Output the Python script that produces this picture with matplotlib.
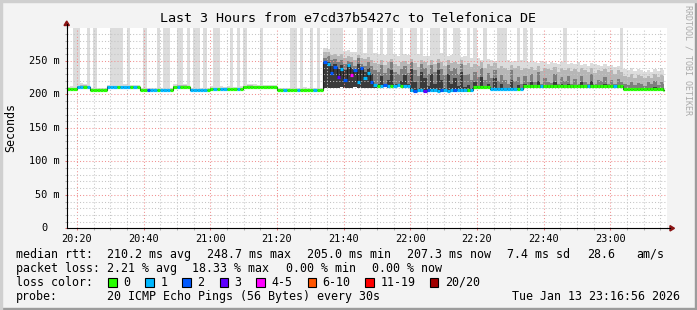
import numpy as np
import matplotlib
matplotlib.use("Agg")
import matplotlib.pyplot as plt
from matplotlib.patches import Polygon, Rectangle
from matplotlib.lines import Line2D

# one bin per minute, bin 0 starts at 20:16:56 (values in ms)
median_ms = [
    208, 208, 208, 211, 211, 211, 211, 206, 206, 206,
    206, 206, 211, 211, 211, 211, 211, 211, 211, 211,
    211, 211, 206, 206, 206, 206, 206, 206, 206, 206,
    206, 206, 211, 211, 211, 211, 211, 206, 206, 206,
    206, 206, 206, 208, 208, 208, 208, 208, 208, 208,
    208, 208, 208, 211, 211, 211, 211, 211, 211, 211,
    211, 211, 211, 206, 206, 206, 206, 206, 206, 206,
    206, 206, 206, 206, 206, 206, 206, 249, 246, 232,
    241, 226, 238, 221, 244, 229, 236, 218, 240, 225,
    232, 219, 214, 213, 213, 214, 212, 213, 213, 214,
    213, 212, 213, 206, 205, 206, 206, 205, 206, 207,
    206, 205, 206, 206, 205, 206, 206, 207, 206, 206,
    206, 206, 211, 211, 211, 211, 211, 208, 208, 208,
    208, 208, 208, 208, 208, 208, 208, 212, 212, 212,
    212, 212, 212, 212, 212, 212, 212, 212, 212, 212,
    212, 212, 212, 212, 212, 212, 212, 212, 212, 212,
    212, 212, 212, 212, 212, 212, 212, 208, 208, 208,
    208, 208, 208, 208, 208, 208, 208, 208, 208, 207,
]

# lost pings out of 20
loss_cnt = [
    0, 0, 0, 1, 1, 0, 1, 0, 0, 0,
    0, 0, 1, 1, 1, 0, 1, 1, 1, 0,
    1, 0, 0, 0, 2, 1, 1, 0, 1, 1,
    1, 0, 0, 1, 0, 0, 0, 1, 1, 1,
    1, 1, 0, 0, 1, 0, 1, 1, 0, 0,
    0, 1, 0, 0, 0, 0, 0, 0, 0, 0,
    0, 0, 0, 0, 0, 1, 0, 0, 0, 1,
    0, 0, 0, 0, 1, 0, 0, 2, 1, 2,
    2, 3, 1, 2, 1, 4, 2, 1, 2, 1,
    1, 2, 1, 0, 1, 2, 1, 0, 1, 1,
    0, 1, 1, 1, 2, 1, 1, 3, 2, 1,
    1, 1, 2, 1, 1, 1, 2, 1, 1, 1,
    0, 1, 0, 0, 0, 0, 0, 1, 1, 1,
    1, 1, 1, 1, 1, 0, 1, 0, 0, 0,
    0, 0, 1, 0, 0, 0, 0, 0, 0, 0,
    0, 0, 0, 0, 0, 0, 1, 0, 0, 0,
    0, 0, 0, 0, 1, 0, 0, 0, 0, 0,
    0, 0, 0, 0, 0, 0, 0, 0, 0, 0,
]

# smoke: fastest ping, 60th / 75th / 90th percentile, slowest ping
smoke_min = [
    207, 207, 207, 210, 210, 210, 210, 205, 205, 205,
    205, 205, 210, 210, 210, 210, 210, 210, 210, 210,
    210, 210, 205, 205, 205, 205, 205, 205, 205, 205,
    205, 205, 210, 210, 210, 210, 210, 205, 205, 205,
    205, 205, 205, 207, 207, 207, 207, 207, 207, 207,
    207, 207, 207, 210, 210, 210, 210, 210, 210, 210,
    210, 210, 210, 205, 205, 205, 205, 205, 205, 205,
    205, 205, 205, 205, 205, 205, 205, 209, 210, 209,
    210, 209, 211, 210, 209, 210, 211, 209, 210, 209,
    210, 209, 210, 211, 211, 212, 210, 211, 211, 212,
    211, 210, 211, 204, 203, 204, 204, 203, 204, 205,
    204, 203, 204, 204, 203, 204, 204, 205, 204, 204,
    204, 204, 209, 209, 209, 209, 209, 206, 206, 206,
    206, 206, 206, 206, 206, 206, 206, 210, 210, 210,
    210, 210, 210, 210, 210, 210, 210, 210, 210, 210,
    210, 210, 210, 210, 210, 210, 210, 210, 210, 210,
    210, 210, 210, 210, 210, 210, 210, 206, 206, 206,
    206, 206, 206, 206, 206, 206, 206, 206, 206, 205,
]

smoke_p60 = [
    208, 208, 208, 211, 211, 211, 211, 206, 206, 206,
    206, 206, 211, 211, 211, 211, 211, 211, 211, 211,
    211, 211, 206, 206, 206, 206, 206, 206, 206, 206,
    206, 206, 211, 211, 211, 211, 211, 206, 206, 206,
    206, 206, 206, 208, 208, 208, 208, 208, 208, 208,
    208, 208, 208, 211, 211, 211, 211, 211, 211, 211,
    211, 211, 211, 206, 206, 206, 206, 206, 206, 206,
    206, 206, 206, 206, 206, 206, 206, 246, 249, 242,
    245, 238, 244, 236, 241, 240, 233, 246, 238, 234,
    240, 230, 216, 215, 228, 216, 222, 236, 215, 216,
    220, 229, 215, 238, 218, 210, 233, 224, 212, 230,
    215, 236, 222, 210, 230, 216, 224, 212, 234, 211,
    214, 210, 218, 213, 226, 212, 216, 210, 224, 210,
    216, 210, 210, 222, 210, 214, 210, 216, 210, 218,
    214, 220, 214, 214, 214, 214, 218, 214, 215, 214,
    216, 214, 214, 214, 218, 214, 214, 220, 214, 214,
    214, 216, 214, 214, 214, 214, 214, 210, 210, 210,
    210, 210, 210, 210, 210, 210, 211, 210, 210, 209,
]

smoke_p75 = [
    209, 209, 209, 212, 212, 212, 212, 207, 207, 207,
    207, 207, 212, 212, 212, 212, 212, 212, 212, 212,
    212, 212, 207, 207, 207, 207, 207, 207, 207, 207,
    207, 207, 212, 212, 212, 212, 212, 207, 207, 207,
    207, 207, 207, 209, 209, 209, 209, 209, 209, 209,
    209, 209, 209, 212, 212, 212, 212, 212, 212, 212,
    212, 212, 212, 207, 207, 207, 207, 207, 207, 207,
    207, 207, 207, 207, 207, 207, 207, 255, 257, 251,
    253, 248, 252, 245, 250, 248, 243, 254, 246, 243,
    248, 243, 236, 234, 244, 232, 240, 248, 233, 230,
    238, 243, 232, 249, 237, 228, 246, 240, 230, 244,
    234, 247, 238, 229, 244, 235, 240, 231, 246, 229,
    230, 222, 233, 226, 240, 221, 232, 224, 237, 220,
    229, 221, 216, 236, 220, 226, 215, 228, 219, 231,
    218, 233, 216, 224, 219, 217, 230, 216, 226, 220,
    227, 216, 223, 215, 228, 218, 216, 231, 215, 222,
    220, 226, 216, 221, 215, 223, 218, 216, 214, 219,
    214, 217, 216, 213, 218, 215, 220, 214, 218, 216,
]

smoke_p90 = [
    210, 210, 210, 213, 214, 214, 213, 208, 208, 208,
    208, 208, 213, 213, 213, 213, 213, 213, 213, 213,
    213, 213, 208, 208, 208, 208, 208, 208, 208, 208,
    208, 208, 213, 214, 214, 214, 213, 208, 208, 208,
    208, 208, 208, 210, 210, 210, 210, 210, 210, 210,
    210, 210, 210, 213, 214, 214, 213, 213, 213, 213,
    213, 213, 213, 208, 208, 208, 208, 208, 208, 208,
    208, 208, 208, 208, 208, 208, 208, 263, 264, 259,
    261, 257, 260, 255, 258, 256, 252, 259, 255, 253,
    256, 251, 247, 246, 251, 244, 249, 253, 245, 243,
    248, 250, 245, 253, 247, 241, 252, 249, 244, 251,
    246, 253, 248, 242, 251, 247, 249, 245, 252, 244,
    247, 241, 246, 243, 248, 240, 245, 242, 247, 239,
    243, 240, 237, 244, 239, 242, 236, 240, 238, 241,
    237, 243, 235, 240, 238, 236, 241, 234, 239, 237,
    240, 235, 238, 233, 239, 236, 234, 240, 232, 237,
    235, 238, 233, 236, 231, 237, 234, 228, 226, 230,
    225, 229, 227, 224, 228, 225, 230, 226, 229, 227,
]

# 320 = slowest ping above the top of the graph
smoke_max = [
    211, 212, 320, 320, 217, 216, 320, 210, 320, 209,
    209, 209, 214, 320, 320, 320, 320, 215, 320, 214,
    214, 214, 209, 320, 210, 209, 209, 320, 209, 320,
    320, 209, 215, 320, 320, 216, 320, 210, 320, 320,
    209, 320, 210, 212, 320, 320, 212, 211, 212, 320,
    211, 320, 213, 320, 216, 215, 215, 214, 320, 214,
    214, 214, 214, 209, 210, 209, 210, 320, 320, 210,
    320, 211, 210, 320, 209, 320, 209, 270, 268, 320,
    320, 320, 320, 265, 266, 264, 263, 320, 320, 262,
    320, 320, 262, 260, 320, 259, 320, 320, 261, 258,
    320, 260, 259, 320, 320, 261, 320, 258, 257, 320,
    320, 320, 262, 320, 258, 259, 320, 320, 256, 257,
    320, 255, 320, 254, 252, 320, 253, 251, 250, 320,
    320, 320, 252, 249, 250, 320, 251, 320, 248, 320,
    249, 247, 250, 248, 246, 249, 247, 245, 248, 320,
    246, 247, 245, 248, 244, 246, 243, 247, 245, 244,
    243, 245, 242, 244, 241, 243, 320, 238, 236, 239,
    235, 238, 236, 233, 237, 234, 238, 235, 240, 236,
]

time_labels = ["20:20", "20:40", "21:00", "21:20", "21:40", "22:00", "22:20", "22:40", "23:00"]
y_ticks = [0, 50, 100, 150, 200, 250]
y_labels = ["0", "50 m", "100 m", "150 m", "200 m", "250 m"]

loss_names = ["0", "1", "2", "3", "4-5", "6-10", "11-19", "20/20"]
loss_upper = [0, 1, 2, 3, 5, 10, 19, 20]
loss_colors = ["#26ff00", "#00b8ff", "#0059ff", "#5e00ff", "#ff00ff", "#ff5500", "#ff0000", "#a00000"]

rtt_stats = ["210.2 ms avg", "248.7 ms max", "205.0 ms min", "207.3 ms now", "7.4 ms sd", "28.6", "am/s"]
loss_stats = ["2.21 % avg", "18.33 % max", "0.00 % min", "0.00 % now"]
probe_text = "20 ICMP Echo Pings (56 Bytes) every 30s"
stamp_text = "Tue Jan 13 23:16:56 2026"
title = "Last 3 Hours from e7cd37b5427c to Telefonica DE"

plt.rcParams["font.family"] = "DejaVu Sans Mono"

W, H = 697, 310


def fx(x):
    return x / W


def fy(y):
    return 1 - y / H


def minutes(hhmm):
    h, m = hhmm.split(":")
    return int(h) * 60 + int(m) - (20 * 60 + 16 + 56 / 60)


fig = plt.figure(figsize=(W / 100, H / 100), dpi=100, facecolor="#f3f3f3")
ax = fig.add_axes([fx(66.7), fy(228.3), 600 / W, 200.8 / H])
ax.set_facecolor("white")

t = np.arange(len(median_ms))
edges = np.append(t, t[-1] + 0.3)


def steps(v):
    v = np.asarray(v, dtype=float)
    return np.append(v, v[-1])


# smoke, outer (light) to inner (dark)
smoke_levels = [(smoke_max, "#dcdcdc"), (smoke_p90, "#b6b6b6"),
                (smoke_p75, "#7e7e7e"), (smoke_p60, "#3a3a3a")]
for upper, shade in smoke_levels:
    ax.fill_between(edges, steps(smoke_min), steps(upper), step="post",
                    color=shade, lw=0, antialiased=False, zorder=1)

# median coloured by packet loss
ax.step(edges, steps(median_ms), where="post", color="#202020", lw=0.8, zorder=4)
seg_colors = [loss_colors[np.searchsorted(loss_upper, n)] for n in loss_cnt]
ax.hlines(median_ms, t, edges[1:], colors=seg_colors, lw=2.3, zorder=5,
          capstyle="butt")

ax.set_xlim(0, 180)
ax.set_ylim(0, 300)

major_x = [minutes(s) for s in time_labels]
minor_x = np.arange(minutes("20:20"), 180, 5)
ax.set_xticks(major_x)
ax.set_xticklabels(time_labels, fontsize=7.4)
ax.set_xticks(minor_x, minor=True)
ax.set_yticks(y_ticks)
ax.set_yticklabels([])
ax.set_yticks(np.arange(10, 300, 10), minor=True)

ax.grid(which="major", color="#f09090", ls=(0, (1, 2)), lw=0.75, zorder=3)
ax.grid(which="minor", color="#c4c4c4", ls=(0, (1, 2)), lw=0.75, zorder=3)
ax.set_axisbelow(False)
ax.tick_params(which="major", length=1.6, width=0.75, color="#e07070", pad=2.5)
ax.tick_params(which="minor", length=1.6, width=0.75, color="#b0b0b0")
ax.tick_params(axis="y", which="major", pad=0)

for v, lab in zip(y_ticks, y_labels):
    xr = -0.0118 if v else -0.032
    ax.text(xr, v, lab, transform=ax.get_yaxis_transform(), ha="right",
            va="center", fontsize=7.4)

for side in ["top", "right"]:
    ax.spines[side].set_visible(False)
for side in ["left", "bottom"]:
    ax.spines[side].set_color("black")
    ax.spines[side].set_linewidth(0.8)
    ax.spines[side].set_zorder(6)

# axis arrows
arrow_c = "#8b1414"
fig.add_artist(Line2D([fx(66.7), fx(66.7)], [fy(27.5), fy(24)], color="black", lw=0.8))
fig.add_artist(Polygon([[fx(66.7), fy(21.0)], [fx(64.0), fy(25.5)], [fx(69.4), fy(25.5)]],
                       closed=True, transform=fig.transFigure, color=arrow_c))
fig.add_artist(Line2D([fx(666.7), fx(670)], [fy(228.3), fy(228.3)], color="black", lw=0.8))
fig.add_artist(Polygon([[fx(674.5), fy(228.3)], [fx(670), fy(225.6)], [fx(670), fy(231.0)]],
                       closed=True, transform=fig.transFigure, color=arrow_c))

# texts
fig.text(fx(348), fy(18), title, ha="center", va="center", fontsize=9.6)
fig.text(fx(10.5), fy(128), "Seconds", rotation=90, ha="center", va="center", fontsize=8.4)
fig.text(fx(688), fy(60), "RRDTOOL / TOBI OETIKER", rotation=270, ha="center",
         va="center", fontsize=6, color="#aaaaaa")

row_y = [254.3, 268.3, 282.3, 296.3]
fig.text(fx(16), fy(row_y[0]), "median rtt:", va="center", fontsize=8.4)
for x, s in zip([107, 207, 307, 407, 507, 587, 636], rtt_stats):
    fig.text(fx(x), fy(row_y[0]), s, va="center", fontsize=8.4)

fig.text(fx(16), fy(row_y[1]), "packet loss:", va="center", fontsize=8.4)
for x, s in zip([107, 192.4, 285.8, 372], loss_stats):
    fig.text(fx(x), fy(row_y[1]), s, va="center", fontsize=8.4)

fig.text(fx(16), fy(row_y[2]), "loss color:", va="center", fontsize=8.4)
swatch_x = [108, 145.3, 182.2, 219.6, 256.4, 307.6, 365.3, 429.8]
for x, name, c in zip(swatch_x, loss_names, loss_colors):
    fig.add_artist(Rectangle((fx(x), fy(row_y[2] + 4.5)), 8.5 / W, 9 / H,
                             transform=fig.transFigure, facecolor=c,
                             edgecolor="black", lw=0.8))
    fig.text(fx(x + 15), fy(row_y[2]), name, va="center", fontsize=8.4)

fig.text(fx(16), fy(row_y[3]), "probe:", va="center", fontsize=8.4)
fig.text(fx(107), fy(row_y[3]), probe_text, va="center", fontsize=8.4)
fig.text(fx(680), fy(row_y[3]), stamp_text, ha="right", va="center", fontsize=8.4)

# image frame
fig.add_artist(Rectangle((0, 0), 1, 2 / H, transform=fig.transFigure, color="#9c9c9c"))
fig.add_artist(Rectangle((1 - 2 / W, 0), 2 / W, 1, transform=fig.transFigure, color="#9c9c9c"))
fig.add_artist(Rectangle((0, 1 - 2 / H), 1, 2 / H, transform=fig.transFigure, color="#cfcfcf"))
fig.add_artist(Rectangle((0, 0), 2 / W, 1, transform=fig.transFigure, color="#cfcfcf"))

fig.savefig("out.png", dpi=100, facecolor=fig.get_facecolor())
